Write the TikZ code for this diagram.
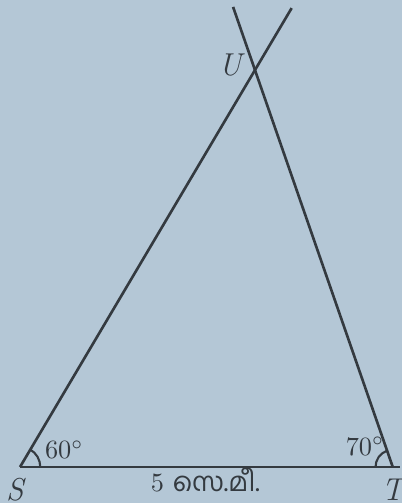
\documentclass[tikz,border=0pt]{standalone}
\usepackage{fontspec}
\newfontfamily\mlfont[Script=Malayalam]{Hind Kochi}
\usetikzlibrary{calc}
\definecolor{figbg}{RGB}{180,199,214}
\definecolor{figink}{RGB}{52,58,64}
\tikzset{
  figline/.style={draw=figink, line width=1pt},
  figangle/.style={draw=figink, line width=0.8pt},
  figlabel/.style={font=\large\itshape, text=figink, inner sep=1pt},
  fignum/.style={font=\normalsize, text=figink, inner sep=1pt},
}

\begin{document}
\begin{tikzpicture}
  \fill[figbg] (-0.267,-0.48) rectangle (5.093,6.227);
  \useasboundingbox (-0.267,-0.48) rectangle (5.093,6.227);
  \coordinate (S) at (0,0);
  \coordinate (T) at (4.97,0);
  \coordinate (U) at (3.133,5.293);
  \coordinate (base end) at (5.07,0);
  \coordinate (S end) at ($(S)!1.156!(U)$);
  \coordinate (T end) at ($(T)!1.159!(U)$);
  \draw[figline] (S) -- (base end);
  \draw[figline] (S) -- (S end);
  \draw[figline] (T) -- (T end);
  \draw[figangle] ($(S)+(0.27,0)$) arc (0:60:0.27);
  \draw[figangle] ($(T)+(110:0.23)$) arc (110:180:0.23);
  \node[figlabel] (s) at (-0.07,-0.3) {S};
  \node[figlabel] (t) at (4.97,-0.3) {T};
  \node[figlabel] (u) at (2.8,5.36) {U};
  \node[fignum] (a) at (0.59,0.23) {$60^{\circ}$};
  \node[fignum] (b) at (4.6,0.28) {$70^{\circ}$};
  \node[fignum, anchor=base, inner sep=0pt, text depth=0pt] (l) at (2.47,-0.33) {5 {\mlfont സെ.മീ.}};
\end{tikzpicture}
\end{document}
